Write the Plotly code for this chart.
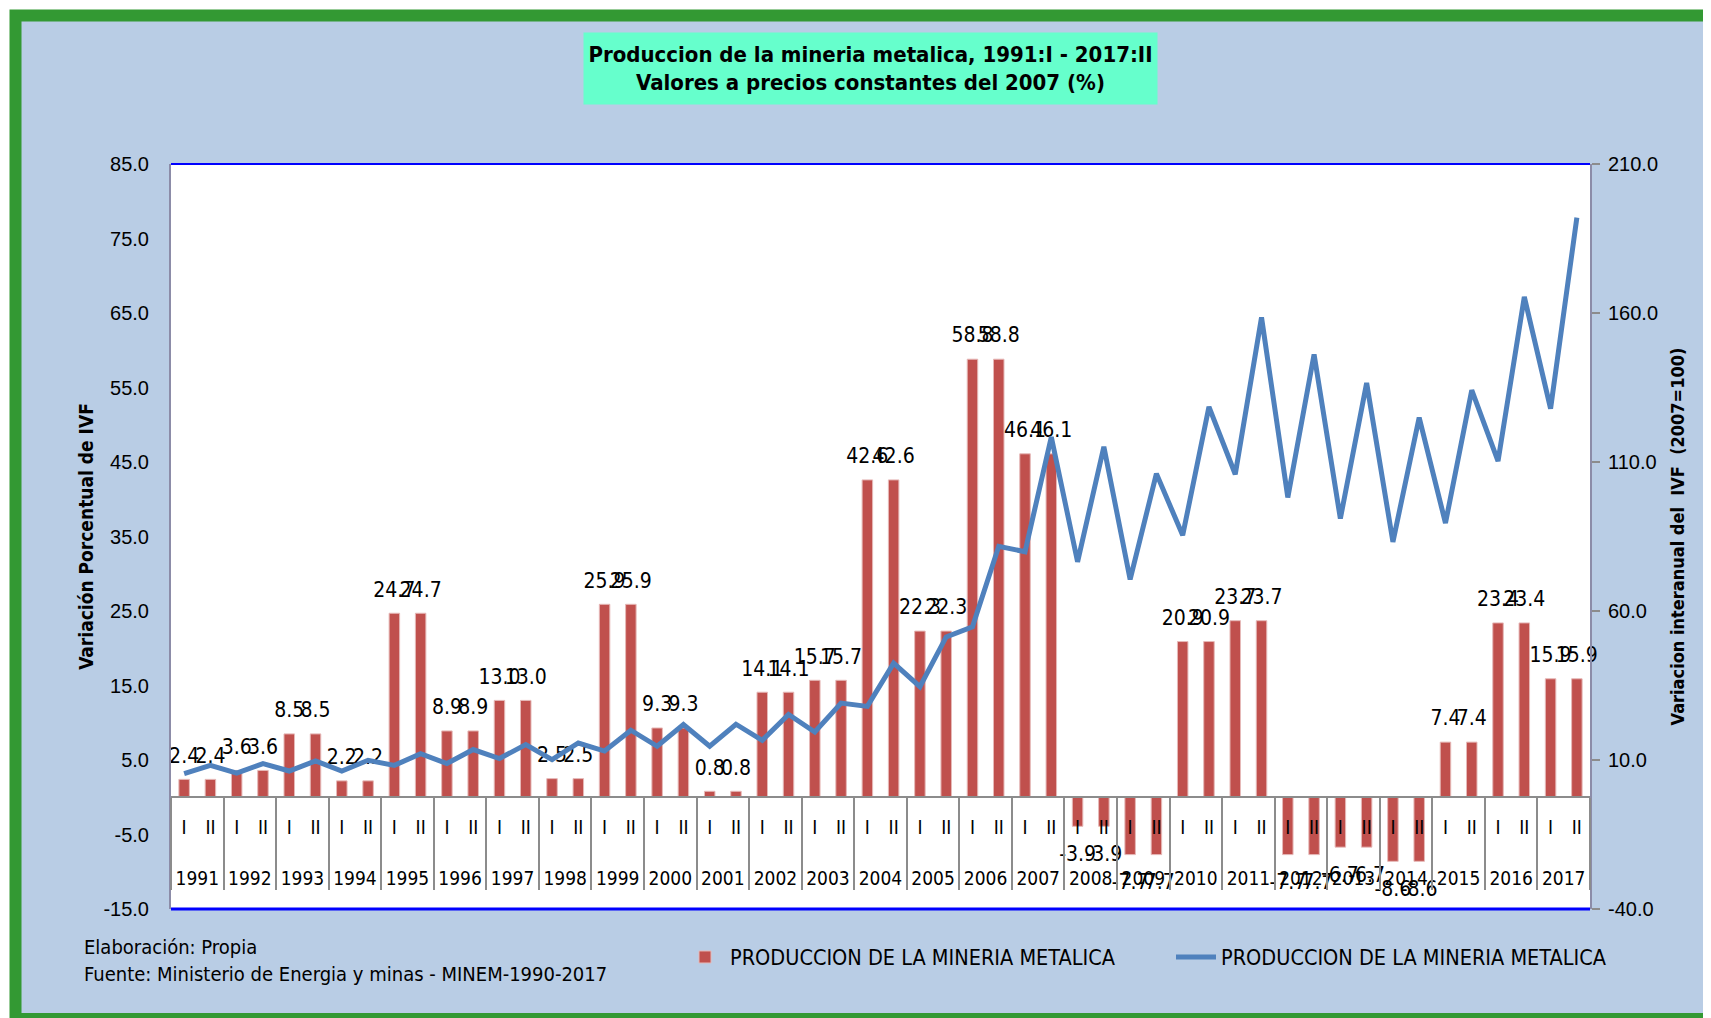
import plotly.graph_objects as go

# ---------------- data ----------------
years = ["1991", "1992", "1993", "1994", "1995", "1996", "1997", "1998", "1999",
         "2000", "2001", "2002", "2003", "2004", "2005", "2006", "2007", "2008",
         "2009", "2010", "2011", "2012", "2013", "2014", "2015", "2016", "2017"]
halves = ["I", "II"]

# Variación porcentual (bars), one value per semester
variacion = [2.4, 2.4, 3.6, 3.6, 8.5, 8.5, 2.2, 2.2, 24.7, 24.7,
             8.9, 8.9, 13.0, 13.0, 2.5, 2.5, 25.9, 25.9, 9.3, 9.3,
             0.8, 0.8, 14.1, 14.1, 15.7, 15.7, 42.6, 42.6, 22.3, 22.3,
             58.8, 58.8, 46.1, 46.1, -3.9, -3.9, -7.7, -7.7, 20.9, 20.9,
             23.7, 23.7, -7.7, -7.7, -6.7, -6.7, -8.6, -8.6, 7.4, 7.4,
             23.4, 23.4, 15.9, 15.9]

# Índice IVF (2007=100) (line), one value per semester
ivf = [5.4, 8.2, 5.6, 8.8, 6.3, 9.7, 6.3, 9.9, 8.2, 12.1,
       8.8, 13.5, 10.5, 15.2, 10.1, 15.7, 13.0, 20.0, 14.6, 21.9,
       14.6, 22.0, 16.6, 25.3, 19.4, 29.1, 28.0, 42.5, 34.6, 51.3,
       54.7, 81.7, 79.9, 118.4, 76.5, 115.1, 70.6, 106.1, 85.4, 128.5,
       105.9, 158.5, 98.1, 146.1, 91.0, 136.5, 83.2, 124.9, 89.5, 134.1,
       110.3, 165.4, 127.9, 192.0]

# axis tick values / labels
y_ticks = [-15, -5, 5, 15, 25, 35, 45, 55, 65, 75, 85]
y_ticktext = ["-15.0", "-5.0", "5.0", "15.0", "25.0", "35.0", "45.0", "55.0", "65.0", "75.0", "85.0"]
y2_ticks = [-40, 10, 60, 110, 160, 210]
y2_ticktext = ["-40.0", "10.0", "60.0", "110.0", "160.0", "210.0"]

LBL = "<span style='font-size:19px'>%s</span>"
# year labels get a leading blank line so they sit one row below the I / II labels
x_year = ["<br>" + LBL % y for y in years for _ in halves]
x_half = [LBL % h for _ in years for h in halves]

VAL = "<span style='font-size:21px'>%.1f</span>"
bar_text = [(VAL % v + "<br>\u00a0") if v >= 0 else ("\u00a0<br>\u00a0<br>" + VAL % v)
            for v in variacion]

NARROW = "DejaVu Sans Condensed, Liberation Sans Narrow, sans-serif"
ARIAL = "Liberation Sans, Arial, sans-serif"

W, H = 1711, 1018
ML, MR, MT, MB = 163, 129, 156, 117
PW, PH = W - ML - MR, H - MT - MB
OX, OY = 8, 8  # page offset of the figure


def px(xp):
    return (xp - OX - ML) / PW


def py(yp):
    return (OY + H - MB - yp) / PH


fig = go.Figure()

fig.add_trace(go.Bar(
    x=[x_year, x_half], y=variacion,
    name="PRODUCCION DE LA MINERIA METALICA",
    marker=dict(color="#C0504D", line=dict(color="#E6B9B8", width=1)),
    text=bar_text, texttemplate="%{text}", textposition="outside",
    textfont=dict(family=NARROW, size=9, color="black"),
    constraintext="none", cliponaxis=False,
    hoverinfo="skip",
    yaxis="y",
))

fig.add_trace(go.Scatter(
    x=[x_year, x_half], y=ivf,
    name="PRODUCCION DE LA MINERIA METALICA",
    mode="lines", line=dict(color="#4F81BD", width=5),
    hoverinfo="y",
    yaxis="y2",
))

fig.update_layout(
    width=W, height=H,
    margin=dict(l=ML, r=MR, t=MT, b=MB, autoexpand=False),
    paper_bgcolor="white", plot_bgcolor="white",
    bargap=0.6,
    showlegend=True,
    legend=dict(orientation="h", x=px(680), xanchor="left", y=py(957), yanchor="middle",
                font=dict(family=NARROW, size=21.5, color="black"),
                bgcolor="rgba(0,0,0,0)", entrywidth=436, itemwidth=40),
    xaxis=dict(
        type="multicategory", anchor="free", position=0.15,
        showline=True, linecolor="#8C8C8C", linewidth=2,
        showdividers=True, dividercolor="#8C8C8C", dividerwidth=1.5,
        showgrid=False, zeroline=False, ticks="", nticks=60, tickangle=0,
        ticklabelstandoff=6,
        tickfont=dict(family=NARROW, size=25, color="black"),
    ),
    yaxis=dict(
        range=[-15, 85], tickmode="array", tickvals=y_ticks, ticktext=y_ticktext,
        showgrid=False, zeroline=False,
        showline=True, linecolor="#8C8CA8", linewidth=2,
        ticks="", ticklabelstandoff=16,
        tickfont=dict(family=ARIAL, size=20, color="black"),
        title=dict(text="<b>Variación Porcentual de IVF</b>", standoff=5,
                   font=dict(family=NARROW, size=19, color="black")),
    ),
    yaxis2=dict(
        range=[-40, 210], tickmode="array", tickvals=y2_ticks, ticktext=y2_ticktext,
        overlaying="y", side="right", anchor="x",
        showgrid=False, zeroline=False,
        showline=True, linecolor="#8C8CA8", linewidth=2,
        ticks="outside", ticklen=8, tickcolor="#8C8C8C", tickwidth=1.5,
        ticklabelstandoff=4,
        tickfont=dict(family=ARIAL, size=20, color="black"),
        title=dict(text="<b>Variacion interanual del  IVF\u00a0 (2007=100)</b>", standoff=14,
                   font=dict(family=NARROW, size=18, color="black")),
    ),
)

shapes = [
    # outer light-blue panel with green frame
    dict(type="rect", xref="paper", yref="paper", layer="below",
         x0=px(15.5), x1=px(1740), y0=py(15.5), y1=py(1019),
         fillcolor="#B9CDE5", line=dict(color="#339933", width=12)),
    # white plot area
    dict(type="rect", xref="paper", yref="paper", layer="below",
         x0=0, x1=1, y0=0, y1=1, fillcolor="white", line=dict(width=0)),
    # blue top and bottom borders
    dict(type="line", xref="paper", yref="paper", x0=0, x1=1, y0=1, y1=1,
         line=dict(color="#0000FF", width=2)),
    dict(type="line", xref="paper", yref="paper", x0=0, x1=1, y0=0, y1=0,
         line=dict(color="#0000FF", width=3)),
]
fig.update_layout(shapes=shapes)

annotations = [
    dict(text="<b>Produccion de la mineria metalica, 1991:I - 2017:II<br>"
              "Valores a precios constantes del 2007 (%)</b>",
         xref="paper", yref="paper", x=px(870), y=py(68.5),
         xanchor="center", yanchor="middle", showarrow=False,
         bgcolor="#66FFCC", width=573, height=71, borderpad=0,
         font=dict(family=NARROW, size=22, color="black")),
    dict(text="Elaboración: Propia", xref="paper", yref="paper",
         x=px(82), y=py(947), xanchor="left", yanchor="middle", showarrow=False,
         font=dict(family=NARROW, size=20, color="black")),
    dict(text="Fuente: Ministerio de Energia y minas - MINEM-1990-2017", xref="paper", yref="paper",
         x=px(82), y=py(974), xanchor="left", yanchor="middle", showarrow=False,
         font=dict(family=NARROW, size=20, color="black")),
]
fig.update_layout(annotations=annotations)

fig.write_html("out.html")
